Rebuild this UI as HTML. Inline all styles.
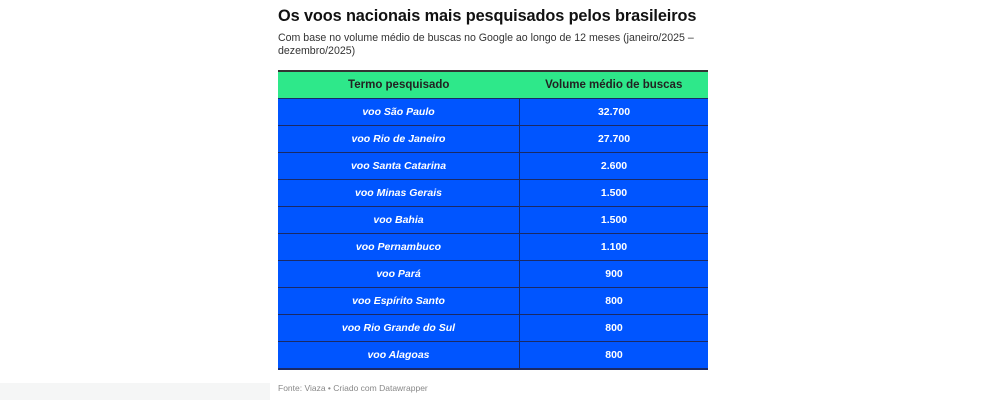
<!DOCTYPE html>
<html><head><meta charset="utf-8"><style>
body{margin:0;width:985px;height:400px;background:#fff;position:relative;overflow:hidden;font-family:"Liberation Sans",Arial,sans-serif}
h1{position:absolute;left:278px;top:7px;margin:0;font-size:16.3px;font-weight:bold;color:#111;letter-spacing:-0.1px}
.sub{position:absolute;left:278px;top:32px;width:440px;font-size:10.6px;line-height:13px;color:#333}
table{position:absolute;left:278px;top:70px;width:430px;border-collapse:collapse;font-size:10.5px;font-weight:bold;color:#fff}
th{background:#2ee88a;color:#222;height:26px;border-top:2px solid #333;padding:0;font-size:11.5px}
td{background:#0055ff;height:26px;border-top:1px solid #1a2a66;text-align:center;padding:0}
td:first-child{font-style:italic;border-right:1px solid #1a2a66;width:241px}
tr:last-child td{border-bottom:2px solid #1a2a66}
.src{position:absolute;left:278px;top:383px;font-size:8.5px;color:#888}
.gray{position:absolute;left:0;top:383px;width:270px;height:17px;background:#f5f6f6}
</style></head><body>
<h1>Os voos nacionais mais pesquisados pelos brasileiros</h1>
<div class="sub">Com base no volume médio de buscas no Google ao longo de 12 meses (janeiro/2025 –<br>dezembro/2025)</div>
<table>
<tr><th>Termo pesquisado</th><th>Volume médio de buscas</th></tr>
<tr><td>voo São Paulo</td><td>32.700</td></tr>
<tr><td>voo Rio de Janeiro</td><td>27.700</td></tr>
<tr><td>voo Santa Catarina</td><td>2.600</td></tr>
<tr><td>voo Minas Gerais</td><td>1.500</td></tr>
<tr><td>voo Bahia</td><td>1.500</td></tr>
<tr><td>voo Pernambuco</td><td>1.100</td></tr>
<tr><td>voo Pará</td><td>900</td></tr>
<tr><td>voo Espírito Santo</td><td>800</td></tr>
<tr><td>voo Rio Grande do Sul</td><td>800</td></tr>
<tr><td>voo Alagoas</td><td>800</td></tr>
</table>
<div class="gray"></div>
<div class="src">Fonte: Viaza • Criado com Datawrapper</div>
</body></html>
